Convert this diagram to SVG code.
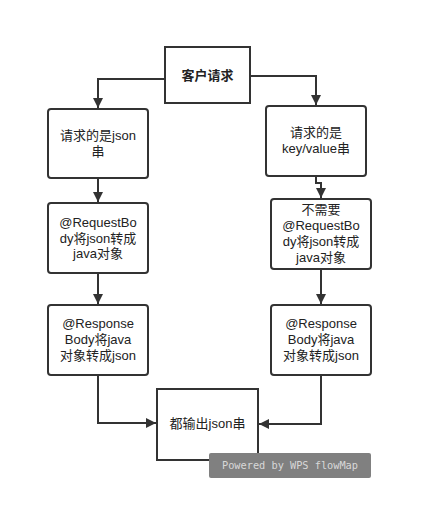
<svg xmlns="http://www.w3.org/2000/svg" width="433" height="522" viewBox="0 0 433 522">
  <defs>
    <marker id="arrow" viewBox="0 0 10 10" refX="10" refY="5" markerWidth="10" markerHeight="10" markerUnits="userSpaceOnUse" orient="auto">
      <path d="M0,0 L10,5 L0,10 z" fill="#333"/>
    </marker>
    <style>
      .box { fill: #fff; stroke: #333; stroke-width: 2; }
      .lbl { font-family: "Liberation Sans", "Noto Sans CJK SC", sans-serif; font-size: 13px; fill: #222; text-anchor: middle; }
      .bold { font-weight: bold; }
      .edge { fill: none; stroke: #333; stroke-width: 2; marker-end: url(#arrow); }
      .mark { font-family: "DejaVu Sans Mono", monospace; font-size: 10.3px; fill: #d8d8d8; }
    </style>
  </defs>
  <rect width="433" height="522" fill="#fff"/>

  <g id="connectors">
    <path class="edge" d="M165,79 H98 V108"/>
    <path class="edge" d="M250,76 H316 V105"/>
    <path class="edge" d="M98,178 V202"/>
    <path class="edge" d="M316,176 V183 H321 V198"/>
    <path class="edge" d="M98,273 V304"/>
    <path class="edge" d="M321,269 V304"/>
    <path class="edge" d="M98,375 V423 H156"/>
    <path class="edge" d="M321,375 V424 H259"/>
  </g>

  <g id="start">
    <rect class="box" x="165" y="47" width="85" height="56"/>
    <text class="lbl bold" x="207.5" y="80">客户请求</text>
  </g>

  <g id="json-request">
    <rect class="box" x="48" y="109" width="100" height="69" rx="3"/>
    <text class="lbl" x="98" y="140">请求的是json</text>
    <text class="lbl" x="98" y="156">串</text>
  </g>

  <g id="kv-request">
    <rect class="box" x="266" y="106" width="100" height="70" rx="3"/>
    <text class="lbl" x="316" y="137">请求的是</text>
    <text class="lbl" x="316" y="153">key/value串</text>
  </g>

  <g id="json-parse">
    <rect class="box" x="48" y="203" width="100" height="70" rx="3"/>
    <text class="lbl" x="98" y="227">@RequestBo</text>
    <text class="lbl" x="98" y="243">dy将json转成</text>
    <text class="lbl" x="98" y="258">java对象</text>
  </g>

  <g id="kv-parse">
    <rect class="box" x="271" y="199" width="100" height="70" rx="3"/>
    <text class="lbl" x="321" y="214">不需要</text>
    <text class="lbl" x="321" y="230">@RequestBo</text>
    <text class="lbl" x="321" y="246">dy将json转成</text>
    <text class="lbl" x="321" y="262">java对象</text>
  </g>

  <g id="json-response">
    <rect class="box" x="48" y="305" width="100" height="70" rx="3"/>
    <text class="lbl" x="98" y="328">@Response</text>
    <text class="lbl" x="98" y="344">Body将java</text>
    <text class="lbl" x="98" y="360">对象转成json</text>
  </g>

  <g id="kv-response">
    <rect class="box" x="271" y="305" width="100" height="70" rx="3"/>
    <text class="lbl" x="321" y="328">@Response</text>
    <text class="lbl" x="321" y="344">Body将java</text>
    <text class="lbl" x="321" y="360">对象转成json</text>
  </g>

  <g id="output">
    <rect class="box" x="157" y="389" width="101" height="71"/>
    <text class="lbl" x="207.5" y="428">都输出json串</text>
  </g>

  <g id="watermark">
    <rect x="209" y="453" width="162" height="25" rx="2" fill="#808080"/>
    <text class="mark" x="222" y="469" textLength="136">Powered by WPS flowMap</text>
  </g>
</svg>
